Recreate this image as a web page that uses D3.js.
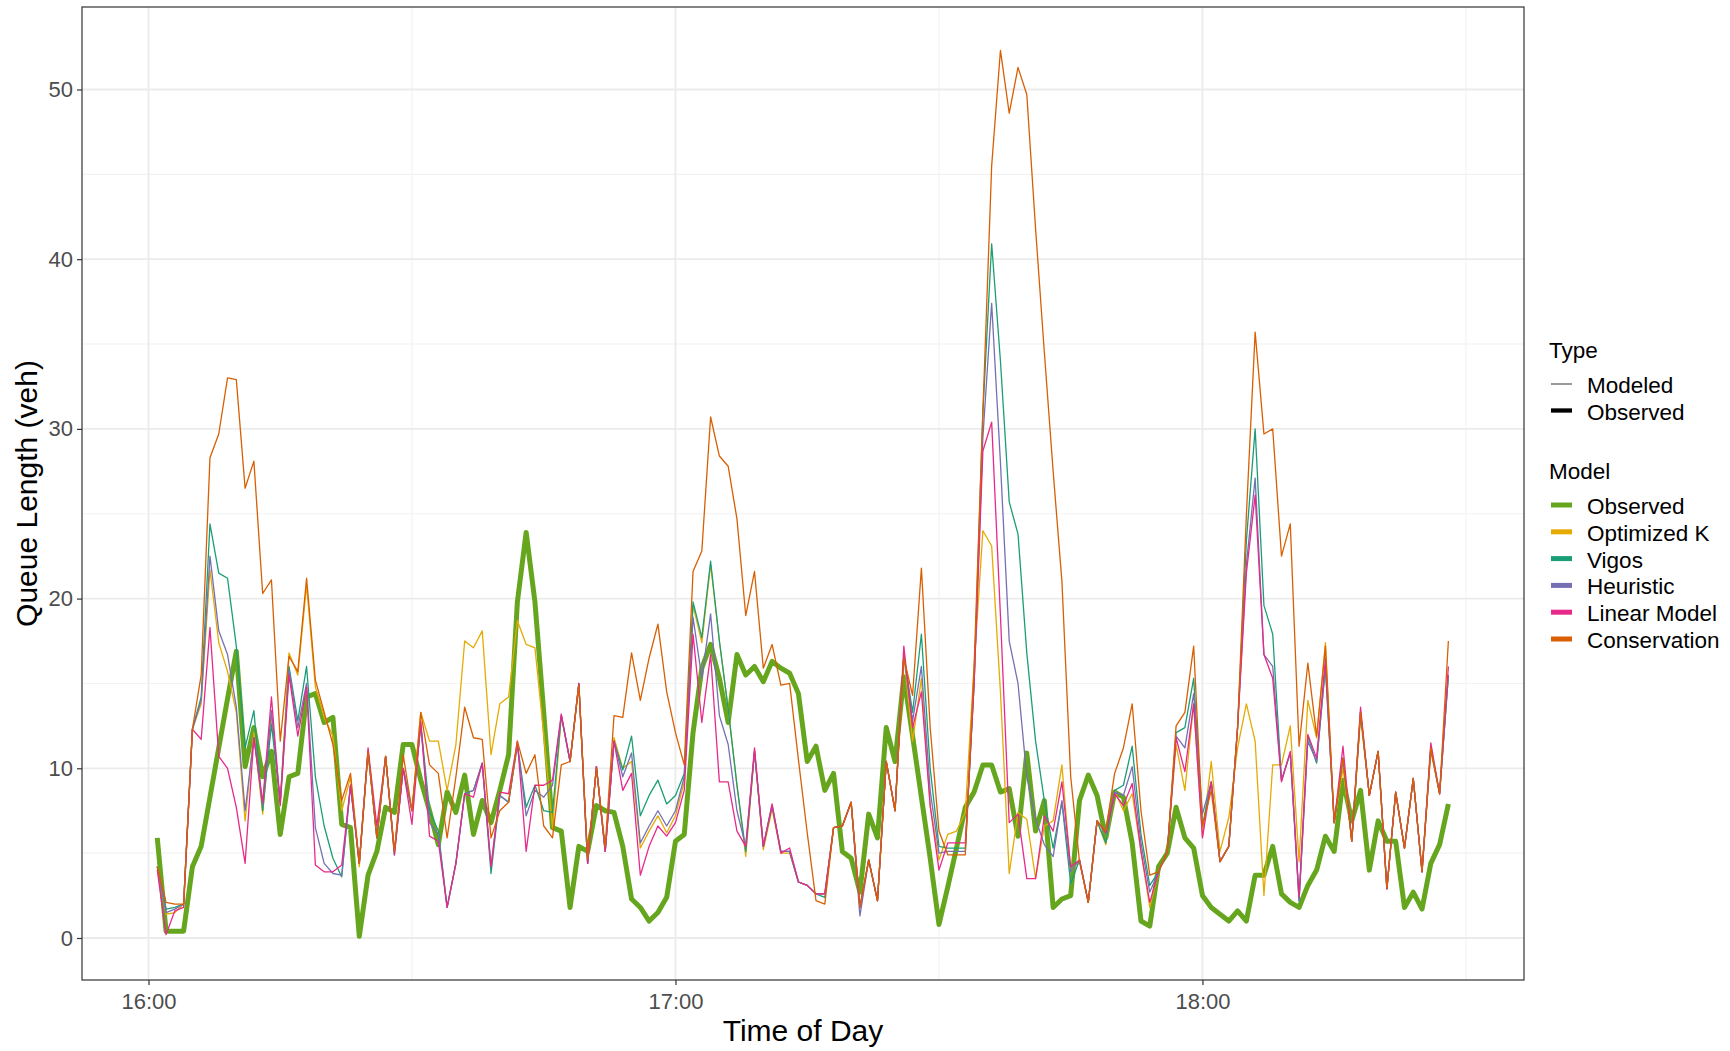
<!DOCTYPE html>
<html>
<head>
<meta charset="utf-8">
<script src="https://cdn.jsdelivr.net/npm/d3@7"></script>
<style>
  body { margin: 0; background: #ffffff; }
  text { font-family: "Liberation Sans", Arial, sans-serif; }
</style>
</head>
<body>
<div id="chart"></div>
<script>
//data, one value per minute from 16:01 to 18:28
var observed = [
  5.9,0.4,0.4,0.4,4.2,5.4,8.3,11.2,14.1,16.9, 10.1,12.4,9.5,11.0,6.1,9.5,9.7,14.2,14.4,12.7,
  13.0,6.7,6.5,0.1,3.7,5.1,7.7,7.4,11.4,11.4, 9.3,7.5,5.5,8.6,7.4,9.6,6.1,8.1,6.8,8.7,
  10.8,19.8,23.9,19.8,13.3,6.5,6.3,1.8,5.4,5.1, 7.8,7.5,7.4,5.4,2.3,1.8,1.0,1.5,2.4,5.7,
  6.1,12.1,15.9,17.3,15.3,12.7,16.7,15.5,16.0,15.1, 16.3,15.9,15.6,14.4,10.4,11.3,8.7,9.7,5.1,4.7,
  2.7,7.3,5.9,12.4,10.4,15.4,11.9,8.3,4.7,0.8, 3.0,5.3,7.7,8.6,10.2,10.2,8.6,8.8,6.0,10.9,
  6.3,8.1,1.8,2.3,2.5,8.1,9.6,8.4,5.9,8.6, 8.3,5.6,1.0,0.7,4.2,5.0,7.7,5.9,5.3,2.5,
  1.8,1.4,1.0,1.6,1.0,3.7,3.7,5.4,2.6,2.1, 1.8,3.1,4.0,6.0,5.1,9.3,6.9,8.7,4.0,6.9,
  5.7,5.7,1.8,2.7,1.7,4.4,5.5,7.9
];
var optimizedK = [
  4.2,1.4,1.5,2.0,12.3,13.8,21.7,17.4,15.7,13.3, 6.9,12.1,7.3,13.0,8.0,16.8,15.5,20.8,14.8,13.0,
  11.9,7.5,9.5,4.2,11.0,5.9,10.7,5.1,10.0,7.5, 13.3,11.6,11.6,8.7,11.4,17.5,17.1,18.1,10.8,13.8,
  14.2,18.7,17.3,17.1,12.0,6.5,13.1,10.4,15.0,4.4, 10.1,5.1,11.8,10.0,10.4,5.3,6.3,7.2,6.2,7.2,
  9.2,19.6,17.4,22.0,17.5,13.5,9.0,4.8,11.0,5.2, 7.6,5.0,5.0,3.3,3.1,2.6,2.6,6.5,6.6,8.0,
  1.8,4.6,2.2,10.4,7.5,16.7,11.6,15.3,7.8,4.6, 6.1,6.3,7.4,16.0,24.0,23.1,14.5,3.8,7.4,7.0,
  3.5,6.6,6.9,10.2,3.9,4.6,2.1,6.9,5.5,8.7, 7.5,8.5,5.1,1.8,3.9,5.1,11.4,8.7,13.8,6.0,
  10.4,5.1,7.1,11.2,13.8,11.6,2.5,10.2,10.2,12.5, 4.5,14.0,11.8,17.4,6.8,10.0,5.7,13.0,8.4,11.0,
  2.9,8.6,5.3,9.4,3.9,11.0,8.5,15.5
];
var vigos = [
  4.2,1.7,1.8,2.0,12.3,14.2,24.4,21.5,21.2,17.2, 11.2,13.4,7.5,12.6,8.0,16.0,12.8,16.0,9.5,6.6,
  4.7,3.6,9.0,4.4,11.0,5.9,10.7,4.9,10.0,7.5, 12.6,7.5,6.3,1.8,4.4,8.5,8.7,10.3,3.8,8.4,
  8.0,11.4,7.7,9.0,7.5,7.4,13.1,10.4,15.0,4.4, 10.1,5.1,11.6,9.9,11.9,7.2,8.4,9.3,7.9,8.4,
  9.7,19.8,17.7,22.2,17.5,13.5,9.0,5.1,11.0,5.4, 7.8,5.1,5.1,3.3,3.1,2.6,2.4,6.5,6.6,8.0,
  1.8,4.6,2.2,10.4,7.5,16.7,13.3,17.9,10.0,5.4, 5.3,5.3,5.3,15.0,31.0,40.9,34.0,25.7,23.8,16.8,
  11.6,8.1,5.3,8.0,3.2,4.6,2.1,6.9,5.6,8.7, 9.0,11.3,6.1,3.1,3.9,5.1,12.1,12.4,15.3,6.6,
  9.2,4.5,5.4,12.4,23.4,30.0,19.6,17.9,9.3,10.9, 2.2,11.9,10.3,16.0,6.8,10.6,5.7,13.3,8.4,11.0,
  2.9,8.6,5.3,9.4,3.9,11.2,8.5,15.5
];
var heuristic = [
  4.2,1.5,1.7,2.0,12.3,14.0,22.5,18.1,16.7,13.6, 7.5,11.8,7.8,13.4,8.0,15.8,12.4,15.0,6.5,4.4,
  3.8,3.7,9.0,4.4,11.0,5.9,10.7,5.1,10.0,7.5, 12.5,6.8,6.1,1.8,4.4,8.5,8.7,10.3,4.2,8.4,
  8.0,11.4,7.2,8.7,8.3,9.0,13.1,10.4,15.0,4.4, 10.1,5.1,11.6,9.5,10.9,5.6,6.6,7.5,6.6,7.5,
  9.5,18.9,15.3,19.1,13.1,11.4,7.5,5.4,11.0,5.4, 7.8,5.1,5.1,3.3,3.1,2.6,2.6,6.5,6.6,8.0,
  1.3,4.6,2.2,10.4,7.5,16.7,12.8,16.0,8.7,5.0, 5.1,5.1,5.1,15.0,29.5,37.4,28.0,17.5,15.0,9.5,
  7.0,5.5,4.8,8.1,3.9,4.6,2.1,6.9,6.2,8.6, 8.4,10.1,5.6,2.7,3.9,5.1,11.9,11.2,14.4,7.3,
  9.2,4.5,5.4,12.4,22.0,27.1,16.7,16.0,9.3,10.9, 2.2,11.6,10.4,16.0,6.8,10.6,5.7,13.3,8.4,11.0,
  2.9,8.6,5.3,9.4,3.9,11.2,8.5,15.5
];
var linearModel = [
  4.0,0.2,1.6,1.8,12.3,11.7,18.3,10.7,10.0,7.7, 4.4,11.8,8.0,14.2,7.8,15.5,11.9,14.8,4.3,3.9,
  3.9,4.3,9.0,4.4,11.2,6.6,10.7,4.9,10.0,6.7, 12.8,6.0,5.7,1.8,4.4,8.5,8.3,10.3,4.2,8.6,
  8.5,11.6,5.1,9.0,9.0,9.3,13.2,10.4,15.0,4.4, 10.1,5.1,11.6,8.7,9.7,3.7,5.4,6.6,6.0,6.8,
  8.7,17.9,12.7,16.7,9.2,9.2,6.3,5.4,11.2,5.4, 7.9,5.0,5.3,3.3,3.1,2.6,2.6,6.5,6.6,8.0,
  1.8,4.6,2.2,10.4,7.5,17.2,12.4,14.5,7.8,4.0, 5.6,5.6,5.6,15.0,28.7,30.4,19.0,6.8,7.3,3.5,
  3.5,7.2,6.3,9.2,4.2,4.6,2.1,6.9,6.2,8.5, 7.8,9.1,5.1,2.1,3.9,5.1,11.8,9.8,13.8,5.9,
  9.2,4.5,5.4,12.4,21.5,26.1,16.7,15.3,9.2,11.0, 2.4,12.0,10.6,16.5,6.8,11.3,5.7,13.6,8.4,11.0,
  2.9,8.6,5.3,9.4,3.9,11.5,8.5,16.0
];
var conservation = [
  4.2,2.1,2.0,2.0,12.3,15.5,28.3,29.7,33.0,32.9, 26.5,28.1,20.3,21.1,11.6,16.6,15.7,21.2,15.2,13.3,
  11.4,8.1,9.7,4.4,11.0,5.9,10.7,5.1,10.8,7.5, 13.3,10.2,9.7,5.9,9.5,13.6,11.8,11.7,5.9,7.5,
  8.0,11.6,9.7,10.8,6.6,5.9,10.2,10.4,14.9,4.7, 10.0,5.4,13.1,13.0,16.8,14.0,16.5,18.5,14.5,12.1,
  10.2,21.6,22.8,30.7,28.4,27.8,24.7,19.0,21.6,15.9, 17.3,14.9,15.0,10.5,6.2,2.2,2.0,6.5,6.6,8.0,
  1.8,4.6,2.2,10.4,7.5,16.5,14.3,21.8,12.4,6.3, 4.9,4.9,4.9,16.0,31.0,45.5,52.3,48.6,51.3,49.7,
  41.8,34.5,27.5,21.0,9.5,4.5,2.1,6.9,6.3,9.7, 11.2,13.8,7.5,3.7,3.9,5.1,12.5,13.3,17.2,6.6,
  8.7,4.5,5.4,12.4,24.9,35.7,29.7,30.0,22.5,24.4, 11.3,16.2,11.9,17.2,6.8,10.6,5.7,13.3,8.4,11.0,
  2.9,8.6,5.3,9.4,3.9,11.2,8.5,17.5
];

var modelNames = ["Observed", "Optimized K", "Vigos", "Heuristic", "Linear Model", "Conservation"];
var modelValues = [observed, optimizedK, vigos, heuristic, linearModel, conservation];
var modelColors = ["#66A61E", "#E6AB02", "#1B9E77", "#7570B3", "#E7298A", "#D95F02"];
var typeNames = ["Modeled", "Observed"];
var firstTime = "16:01";
var timeTicks = ["16:00", "17:00", "18:00"];
var timeMinorTicks = ["16:30", "17:30", "18:30"];
var valueTicks = [0, 10, 20, 30, 40, 50];
var valueMinorTicks = [5, 15, 25, 35, 45];

//globals
var width = 1730;
var height = 1051;
var panel = {left: 82, top: 7, right: 1524, bottom: 980};
var font = "'Liberation Sans', Arial, sans-serif";
var parseTime = d3.timeParse("%H:%M");
var origin = parseTime("16:00");
var start = parseTime(firstTime);
var times = observed.map(function(d, i) { return d3.timeMinute.offset(start, i); });

var svg = d3.select("#chart")
    .append("svg")
    .attr("width", width)
    .attr("height", height)
    .style("background", "#fff");

var x = d3.scaleTime()
    .domain([new Date(+origin - 7.57 * 60000), new Date(+origin + 156.61 * 60000)])
    .range([panel.left, panel.right]);

var y = d3.scaleLinear()
    .domain([-2.475, 54.86])
    .range([panel.bottom, panel.top]);

//grid
var grid = svg.append("g");
grid.selectAll(".ymin").data(valueMinorTicks).enter().append("line")
    .attr("x1", panel.left).attr("x2", panel.right)
    .attr("y1", function(d) { return y(d); }).attr("y2", function(d) { return y(d); })
    .attr("stroke", "#F2F2F2").attr("stroke-width", 1.1);
grid.selectAll(".xmin").data(timeMinorTicks).enter().append("line")
    .attr("y1", panel.top).attr("y2", panel.bottom)
    .attr("x1", function(d) { return x(parseTime(d)); }).attr("x2", function(d) { return x(parseTime(d)); })
    .attr("stroke", "#F2F2F2").attr("stroke-width", 1.1);
grid.selectAll(".ymaj").data(valueTicks).enter().append("line")
    .attr("x1", panel.left).attr("x2", panel.right)
    .attr("y1", function(d) { return y(d); }).attr("y2", function(d) { return y(d); })
    .attr("stroke", "#EBEBEB").attr("stroke-width", 1.8);
grid.selectAll(".xmaj").data(timeTicks).enter().append("line")
    .attr("y1", panel.top).attr("y2", panel.bottom)
    .attr("x1", function(d) { return x(parseTime(d)); }).attr("x2", function(d) { return x(parseTime(d)); })
    .attr("stroke", "#EBEBEB").attr("stroke-width", 1.8);

//lines
var line = d3.line()
    .x(function(d, i) { return x(times[i]); })
    .y(function(d) { return y(d); });

svg.append("g")
    .selectAll("path")
    .data(modelValues)
    .enter()
    .append("path")
    .attr("d", line)
    .attr("fill", "none")
    .attr("stroke", function(d, i) { return modelColors[i]; })
    .attr("stroke-width", function(d, i) { return i === 0 ? 5 : 1.3; })
    .attr("stroke-linejoin", "round")
    .attr("stroke-linecap", "butt");

//panel border
svg.append("rect")
    .attr("x", panel.left).attr("y", panel.top)
    .attr("width", panel.right - panel.left).attr("height", panel.bottom - panel.top)
    .attr("fill", "none").attr("stroke", "#333333").attr("stroke-width", 1.2);

//axes
var xAxis = svg.append("g")
    .attr("transform", "translate(0," + panel.bottom + ")")
    .call(d3.axisBottom(x)
        .tickValues(timeTicks.map(parseTime))
        .tickFormat(d3.timeFormat("%H:%M"))
        .tickSize(5)
        .tickPadding(8));

var yAxis = svg.append("g")
    .attr("transform", "translate(" + panel.left + ",0)")
    .call(d3.axisLeft(y)
        .tickValues(valueTicks)
        .tickSize(5)
        .tickPadding(4));

[xAxis, yAxis].forEach(function(a) {
    a.select(".domain").remove();
    a.selectAll(".tick line").attr("stroke", "#333333").attr("stroke-width", 1.2);
    a.selectAll(".tick text")
        .attr("fill", "#4D4D4D")
        .attr("font-family", font)
        .style("font-size", "22px");
});

//axis titles
svg.append("text")
    .attr("x", (panel.left + panel.right) / 2)
    .attr("y", 1041)
    .attr("text-anchor", "middle")
    .attr("font-family", font)
    .style("font-size", "30px")
    .attr("fill", "black")
    .text("Time of Day");

svg.append("text")
    .attr("transform", "translate(37," + (panel.top + panel.bottom) / 2 + ") rotate(-90)")
    .attr("text-anchor", "middle")
    .attr("font-family", font)
    .style("font-size", "30px")
    .attr("fill", "black")
    .text("Queue Length (veh)");

//legend
var legend = svg.append("g");

legend.append("text")
    .attr("x", 1549).attr("y", 357.5)
    .attr("font-family", font).style("font-size", "22.5px")
    .text("Type");

var typeKeys = legend.selectAll(".typekey")
    .data(typeNames)
    .enter()
    .append("g")
    .attr("transform", function(d, i) { return "translate(0," + (i * 26.5) + ")"; });

typeKeys.append("line")
    .attr("x1", 1551).attr("x2", 1572)
    .attr("y1", 384).attr("y2", 384)
    .attr("stroke", function(d, i) { return i === 0 ? "#555" : "#000"; })
    .attr("stroke-width", function(d, i) { return i === 0 ? 1.2 : 4.3; });

typeKeys.append("text")
    .attr("x", 1587).attr("y", 393.3)
    .attr("font-family", font).style("font-size", "22.5px")
    .text(function(d) { return d; });

legend.append("text")
    .attr("x", 1549).attr("y", 479.3)
    .attr("font-family", font).style("font-size", "22.5px")
    .text("Model");

var modelKeys = legend.selectAll(".modelkey")
    .data(modelNames)
    .enter()
    .append("g")
    .attr("transform", function(d, i) { return "translate(0," + (i * 26.8) + ")"; });

modelKeys.append("line")
    .attr("x1", 1551).attr("x2", 1572)
    .attr("y1", 505).attr("y2", 505)
    .attr("stroke", function(d, i) { return modelColors[i]; })
    .attr("stroke-width", 5);

modelKeys.append("text")
    .attr("x", 1587).attr("y", 514)
    .attr("font-family", font).style("font-size", "22.5px")
    .text(function(d) { return d; });
</script>
</body>
</html>
